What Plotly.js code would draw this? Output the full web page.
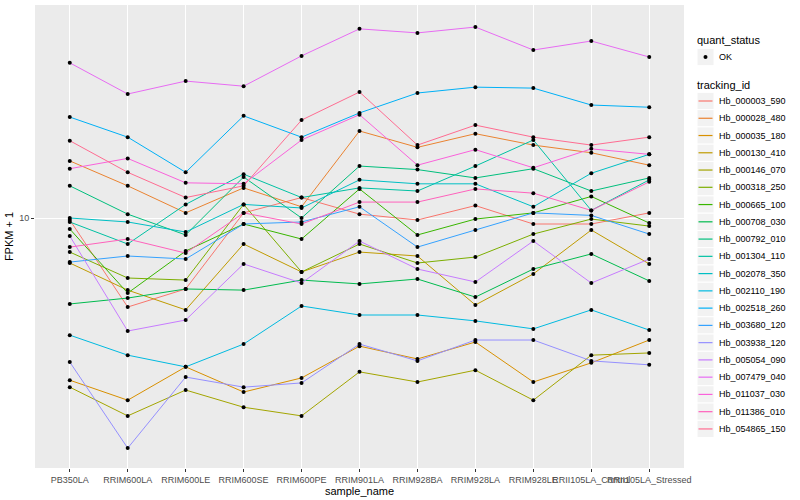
<!DOCTYPE html>
<html>
<head>
<meta charset="utf-8">
<script src="https://cdn.plot.ly/plotly-3.0.1.min.js"></script>
<style>html,body{margin:0;padding:0;background:#fff;}#chart{width:800px;height:500px;}</style>
</head>
<body>
<div id="chart"></div>
<script>
const samples = ['PB350LA','RRIM600LA','RRIM600LE','RRIM600SE','RRIM600PE','RRIM901LA','RRIM928BA','RRIM928LA','RRIM928LE','RRII105LA_Control','RRII105LA_Stressed'];

const trackingIds = ['Hb_000003_590','Hb_000028_480','Hb_000035_180','Hb_000130_410','Hb_000146_070','Hb_000318_250','Hb_000665_100','Hb_000708_030','Hb_000792_010','Hb_001304_110','Hb_002078_350','Hb_002110_190','Hb_002518_260','Hb_003680_120','Hb_003938_120','Hb_005054_090','Hb_007479_040','Hb_011037_030','Hb_011386_010','Hb_054865_150'];

const lineColors = ['#F8766D','#EA8331','#D89000','#C09B00','#A3A500','#7CAE00','#39B600','#00BB4E','#00BF7D','#00C1A3','#00BFC4','#00BAE0','#00B0F6','#35A2FF','#9590FF','#C77CFF','#E76BF3','#FA62DB','#FF62BC','#FF6C91'];

const quantStatus = ['OK'];

// FPKM + 1 per sample, in sample order
const hb_000003_590 = [9.85,5.05,5.80,10.4,11.7,10.3,9.85,11.0,9.55,9.55,10.4];
const hb_000028_480 = [15.5,12.8,10.4,12.6,10.9,19.5,17.2,19.1,17.5,16.5,15.0];
const hb_000035_180 = [2.88,2.47,3.19,2.63,2.93,3.74,3.39,3.86,2.84,3.29,3.92];
const hb_000130_410 = [7.08,5.75,4.94,8.19,6.61,7.70,7.47,5.13,6.51,9.12,7.03];
const hb_000146_070 = [2.73,2.19,2.67,2.34,2.19,3.07,2.84,3.11,2.47,3.49,3.55];
const hb_000318_250 = [7.70,6.31,6.21,11.1,6.61,8.19,7.08,7.41,8.84,9.92,9.40];
const hb_000665_100 = [9.19,5.62,7.76,9.55,8.51,12.5,8.78,9.92,10.4,11.8,9.62];
const hb_000708_030 = [5.17,5.41,5.80,5.75,6.21,6.03,6.26,5.45,6.76,7.59,6.17];
const hb_000792_010 = [12.8,10.3,8.78,13.7,10.0,14.9,14.5,13.6,14.6,12.3,13.6];
const hb_001304_110 = [9.70,8.19,11.1,14.0,11.7,12.6,12.3,14.9,18.2,10.6,13.4];
const hb_002078_350 = [10.0,9.70,8.98,11.1,10.8,13.4,13.0,13.0,10.9,14.1,16.3];
const hb_002110_190 = [4.07,3.49,3.19,3.80,5.09,4.75,4.75,4.54,4.27,4.94,4.23];
const hb_002518_260 = [21.7,18.6,14.2,21.9,18.6,22.4,26.1,27.3,27.1,23.8,23.4];
const hb_003680_120 = [7.13,7.47,7.30,9.55,9.70,10.9,8.00,9.12,10.4,10.2,8.84];
const hb_003938_120 = [3.31,1.71,2.95,2.73,2.82,3.80,3.34,3.92,3.92,3.34,3.24];
const hb_005054_090 = [8.71,4.20,4.57,7.03,6.07,8.38,6.76,6.12,8.38,6.07,7.30];
const hb_007479_040 = [32.9,25.9,28.6,27.5,34.7,42.7,41.4,43.3,36.3,38.9,34.4];
const hb_011037_030 = [14.6,15.8,13.1,13.0,18.2,22.1,15.0,16.9,14.7,17.0,16.3];
const hb_011386_010 = [8.00,8.51,7.64,10.4,9.55,11.3,11.3,12.5,12.1,10.6,13.2];
const hb_054865_150 = [18.1,14.2,11.7,12.8,21.2,26.3,17.5,20.4,18.6,17.5,18.6];

const seriesValues = [hb_000003_590,hb_000028_480,hb_000035_180,hb_000130_410,hb_000146_070,hb_000318_250,hb_000665_100,hb_000708_030,hb_000792_010,hb_001304_110,hb_002078_350,hb_002110_190,hb_002518_260,hb_003680_120,hb_003938_120,hb_005054_090,hb_007479_040,hb_011037_030,hb_011386_010,hb_054865_150];

const yTickVals = [10];
const yTickText = ['10'];

const FONT = '"Liberation Sans", Arial, Helvetica, sans-serif';
const W = 800, H = 500;
const M = {l: 35, r: 116, t: 5, b: 32};
const PW = W - M.l - M.r, PH = H - M.t - M.b;
const toPX = x => (x - M.l) / PW;
const toPY = y => (H - M.b - y) / PH;

const traces = [];
trackingIds.forEach((id, i) => {
  traces.push({
    type: 'scatter', mode: 'lines',
    x: samples, y: seriesValues[i],
    name: id,
    line: {color: lineColors[i], width: 1},
    showlegend: false,
    hoverinfo: 'skip'
  });
});
const px = [], py = [];
seriesValues.forEach(vals => { vals.forEach((v, j) => { px.push(samples[j]); py.push(v); }); });
traces.push({
  type: 'scatter', mode: 'markers',
  x: px, y: py, name: quantStatus[0],
  marker: {color: '#000', size: 4, symbol: 'circle'},
  showlegend: false,
  hoverinfo: 'skip'
});

// legend built in the ggplot style: grey key boxes, titles, labels
const shapes = [], annotations = [];
const keyX0 = 697, keyX1 = 714, keyH = 17.26, textX = 717;
function keyBox(yc) {
  shapes.push({type: 'rect', xref: 'paper', yref: 'paper',
    x0: toPX(keyX0), x1: toPX(keyX1), y0: toPY(yc - keyH / 2), y1: toPY(yc + keyH / 2),
    fillcolor: '#F2F2F2', line: {color: '#FFFFFF', width: 1}, layer: 'above'});
}
function label(text, x, yc, size) {
  annotations.push({xref: 'paper', yref: 'paper', x: toPX(x), y: toPY(yc),
    xanchor: 'left', yanchor: 'middle', text: text, showarrow: false,
    font: {family: FONT, size: size, color: '#000'}});
}
label('quant_status', 695, 40, 11);
const okY = 57;
keyBox(okY);
shapes.push({type: 'circle', xref: 'paper', yref: 'paper',
  x0: toPX(703.5), x1: toPX(707.5), y0: toPY(okY - 2), y1: toPY(okY + 2),
  fillcolor: '#000', line: {color: '#000', width: 0}, layer: 'above'});
label(quantStatus[0], textX, okY, 9);
label('tracking_id', 695, 85, 11);
trackingIds.forEach((id, i) => {
  const yc = 101 + i * keyH;
  keyBox(yc);
  shapes.push({type: 'line', xref: 'paper', yref: 'paper',
    x0: toPX(698.5), x1: toPX(712.5), y0: toPY(yc), y1: toPY(yc),
    line: {color: lineColors[i], width: 1.2}, layer: 'above'});
  label(id, textX, yc, 9);
});

const layout = {
  width: W, height: H,
  margin: M,
  paper_bgcolor: '#FFFFFF',
  plot_bgcolor: '#EBEBEB',
  font: {family: FONT, size: 9, color: '#000'},
  showlegend: false,
  shapes: shapes,
  annotations: annotations,
  xaxis: {
    type: 'category', categoryorder: 'array', categoryarray: samples,
    range: [-0.6, 10.6],
    showgrid: true, gridcolor: '#FFFFFF', gridwidth: 1,
    zeroline: false, showline: false,
    ticks: 'outside', ticklen: 3, tickcolor: '#333333', tickwidth: 1,
    tickangle: 0,
    tickfont: {size: 9, color: '#4D4D4D', family: FONT},
    title: {text: 'sample_name', font: {size: 11, color: '#000'}, standoff: 1}
  },
  yaxis: {
    type: 'log', range: [0.1667, 1.71],
    tickvals: yTickVals, ticktext: yTickText,
    showgrid: true, gridcolor: '#FFFFFF', gridwidth: 1,
    zeroline: false, showline: false,
    ticks: 'outside', ticklen: 3, tickcolor: '#333333', tickwidth: 1,
    tickfont: {size: 9, color: '#4D4D4D', family: FONT},
    title: {text: 'FPKM + 1', font: {size: 11, color: '#000'}, standoff: 3}
  }
};

Plotly.newPlot('chart', traces, layout, {displayModeBar: false, staticPlot: true});
</script>
</body>
</html>
